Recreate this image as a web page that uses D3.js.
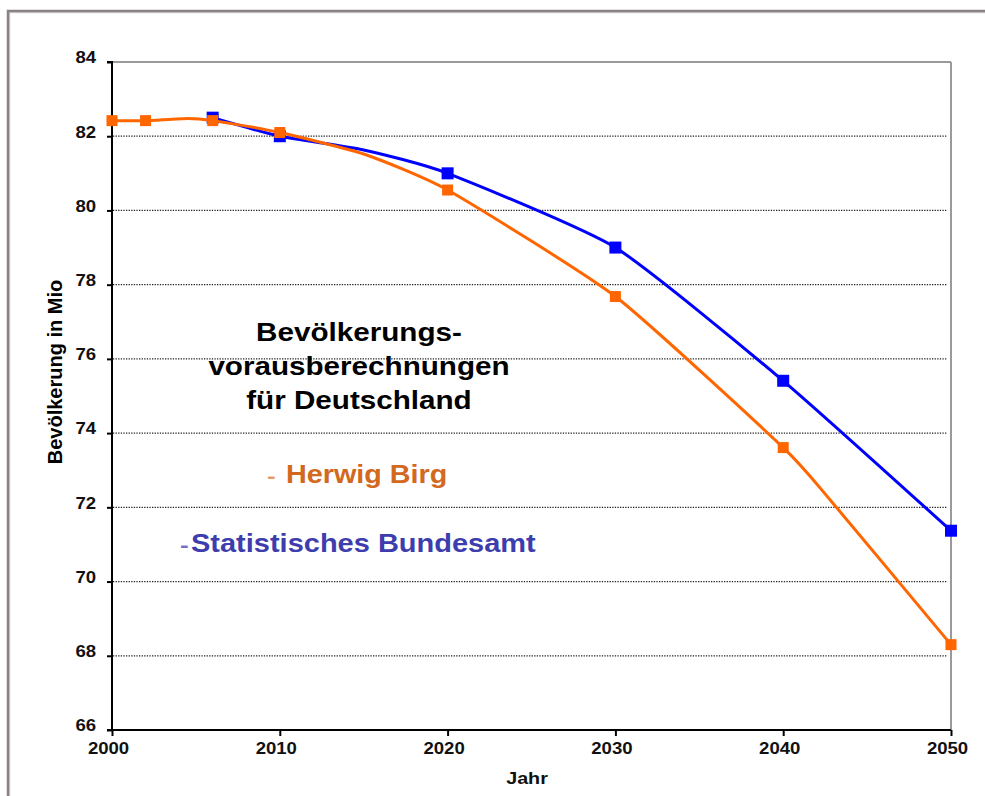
<!DOCTYPE html>
<html>
<head>
<meta charset="utf-8">
<script src="https://cdn.jsdelivr.net/npm/d3@7"></script>
<style>
  html, body { margin: 0; padding: 0; background: #fff; }
  svg { display: block; }
  text { font-family: "Liberation Sans", Arial, sans-serif; font-weight: bold; }
</style>
</head>
<body>
<svg id="chart" width="985" height="796"></svg>
<script>
// ---- data ----
const birgYears   = [2000, 2002, 2004.5, 2006, 2010, 2015, 2020, 2030, 2040, 2042.8, 2050];
const birgValues  = [82.42, 82.42, 82.48, 82.42, 82.1, 81.52, 80.55, 77.68, 73.61, 72.2, 68.3];
const birgMarked  = [true, true, false, true, true, false, true, true, true, false, true];
const destatisYears  = [2006, 2010, 2015, 2020, 2030, 2040, 2050];
const destatisValues = [82.5, 82.0, 81.63, 81.0, 79.0, 75.41, 71.37];
const destatisMarked = [true, true, false, true, true, true, true];
const yTickValues = [66, 68, 70, 72, 74, 76, 78, 80, 82, 84];
const gridValues  = [68, 70, 72, 74, 76, 78, 80, 82];
const xTickValues = [2000, 2010, 2020, 2030, 2040, 2050];
const titleLines  = ["Bevölkerungs-", "vorausberechnungen", "für Deutschland"];
const legendBirg  = "Herwig Birg";
const legendDestatis = "Statistisches Bundesamt";
const yLabel = "Bevölkerung in Mio";
const xLabel = "Jahr";

// ---- layout ----
const svg = d3.select("#chart");
const L = 112, R = 951, T = 62, B = 730;
const SX = 1.16; // horizontal text stretch seen in the reference

const x = d3.scaleLinear().domain([2000, 2050]).range([L, R]);
const y = d3.scaleLinear().domain([66, 84]).range([B, T]);

function stretch(sel, sx) {
  sel.each(function () {
    const t = d3.select(this);
    const ax = +t.attr("x") || 0;
    t.attr("transform", `translate(${ax},0) scale(${sx},1) translate(${-ax},0)`);
  });
}

// outer frame
svg.append("rect").attr("x", 0).attr("y", 0).attr("width", 985).attr("height", 796).attr("fill", "#fff");
svg.append("rect").attr("x", 9.5).attr("y", 12.5).attr("width", 1100).attr("height", 1000)
  .attr("fill", "none").attr("stroke", "#d6d3d3").attr("stroke-width", 1.5);
svg.append("rect").attr("x", 8).attr("y", 11).attr("width", 1100).attr("height", 1000)
  .attr("fill", "none").attr("stroke", "#8a8282").attr("stroke-width", 2.5);

// grid lines
svg.append("g").selectAll("line").data(gridValues).join("line")
  .attr("x1", L + 1).attr("x2", R - 4)
  .attr("y1", d => y(d)).attr("y2", d => y(d))
  .attr("stroke", "#222").attr("stroke-width", 1.3).attr("stroke-dasharray", "1.3,1.3");

// plot frame top/right
svg.append("line").attr("x1", L).attr("x2", R).attr("y1", T).attr("y2", T)
  .attr("stroke", "#9a9a9a").attr("stroke-width", 2);
svg.append("line").attr("x1", R).attr("x2", R).attr("y1", T).attr("y2", B)
  .attr("stroke", "#9a9a9a").attr("stroke-width", 2);

// axes
const yAxis = d3.axisLeft(y).tickValues(yTickValues).tickSize(5).tickPadding(11).tickFormat(d3.format("d"));
const gy = svg.append("g").attr("transform", `translate(${L},0)`).call(yAxis);
gy.select(".domain").attr("stroke", "#000").attr("stroke-width", 2).attr("d", `M-5,${T}H0V${B}`);
gy.selectAll(".tick line").attr("stroke", "#000").attr("stroke-width", 2);
gy.selectAll(".tick text").attr("dy", "0.05em").attr("font-size", 16).attr("fill", "#111")
  .attr("font-family", "Liberation Sans, Arial, sans-serif").attr("font-weight", "bold")
  .call(stretch, SX);

const xAxis = d3.axisBottom(x).tickValues(xTickValues).tickSize(6).tickPadding(6).tickFormat(d3.format("d"));
const gx = svg.append("g").attr("transform", `translate(0,${B})`).call(xAxis);
gx.select(".domain").attr("stroke", "#000").attr("stroke-width", 2).attr("d", `M${L - 5},0H${R}`);
gx.selectAll(".tick line").attr("stroke", "#000").attr("stroke-width", 2);
gx.selectAll(".tick text").attr("x", -4).attr("dy", "0.78em").attr("font-size", 16).attr("fill", "#111")
  .attr("font-family", "Liberation Sans, Arial, sans-serif").attr("font-weight", "bold")
  .call(stretch, SX);

// lines
const line = d3.line().x(d => x(d[0])).y(d => y(d[1])).curve(d3.curveCardinal.tension(0.45));
const destatisPts = destatisYears.map((yr, i) => [yr, destatisValues[i], destatisMarked[i]]);
const birgPts = birgYears.map((yr, i) => [yr, birgValues[i], birgMarked[i]]);

svg.append("path").datum(destatisPts).attr("d", line)
  .attr("fill", "none").attr("stroke", "#0000ff").attr("stroke-width", 3).attr("stroke-linejoin", "round");
svg.append("g").selectAll("rect").data(destatisPts.filter(d => d[2])).join("rect")
  .attr("x", d => x(d[0]) - 6).attr("y", d => y(d[1]) - 6)
  .attr("width", 12).attr("height", 12).attr("fill", "#0000ff");

svg.append("path").datum(birgPts).attr("d", line)
  .attr("fill", "none").attr("stroke", "#ff6600").attr("stroke-width", 3).attr("stroke-linejoin", "round");
svg.append("g").selectAll("rect").data(birgPts.filter(d => d[2])).join("rect")
  .attr("x", d => x(d[0]) - 5.5).attr("y", d => y(d[1]) - 5.5)
  .attr("width", 11).attr("height", 11).attr("fill", "#ff6600");

// title
const titleBase = [341, 375, 409];
svg.append("g").selectAll("text").data(titleLines).join("text")
  .attr("x", 359).attr("y", (d, i) => titleBase[i])
  .attr("text-anchor", "middle").attr("font-size", 26).attr("fill", "#000")
  .text(d => d)
  .call(stretch, 1.14);

// legend texts
svg.append("text").attr("x", 267).attr("y", 483).attr("font-weight", "normal")
  .attr("font-size", 20).attr("fill", "#e89a60").text("-").call(stretch, 1.3);
svg.append("text").attr("x", 286).attr("y", 483).attr("font-size", 25).attr("fill", "#d2691e")
  .text(legendBirg).call(stretch, 1.15);

svg.append("text").attr("x", 180).attr("y", 552).attr("font-weight", "normal")
  .attr("font-size", 20).attr("fill", "#7070c4").text("-").call(stretch, 1.3);
svg.append("text").attr("x", 191).attr("y", 552).attr("font-size", 25).attr("fill", "#3d3dae")
  .text(legendDestatis).call(stretch, 1.16);

// axis titles
svg.append("text").attr("transform", "translate(62,372) rotate(-90)")
  .attr("text-anchor", "middle").attr("font-size", 20).attr("fill", "#000").text(yLabel);
const xl = svg.append("text").attr("x", 527).attr("y", 784).attr("text-anchor", "middle")
  .attr("font-size", 17).attr("fill", "#111").text(xLabel);
stretch(xl, SX);
</script>
</body>
</html>
